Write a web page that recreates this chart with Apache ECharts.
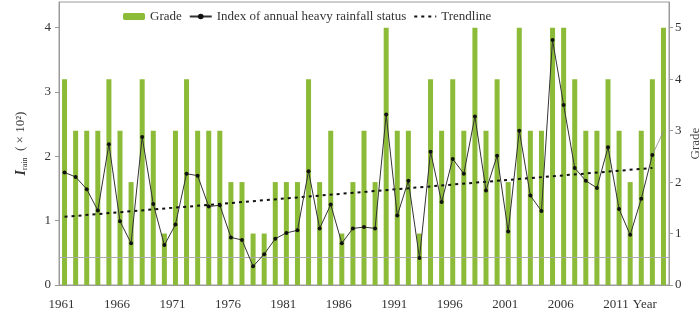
<!DOCTYPE html>
<html>
<head>
<meta charset="utf-8">
<script src="https://cdn.jsdelivr.net/npm/echarts@6/dist/echarts.min.js"></script>
<style>
    html, body { margin: 0; padding: 0; background: #fff; }
    #main { width: 700px; height: 310px; }
</style>
</head>
<body>
<div id="main"></div>
<script>
// years on the category axis
let years = [];
for (let y = 1961; y <= 2015; y++) years.push(String(y));

// grade (right axis), one per year 1961-2015
let grade = [
    4, 3, 3, 3, 4, 3, 2, 4, 3, 1,
    3, 4, 3, 3, 3, 2, 2, 1, 1, 2,
    2, 2, 4, 2, 3, 1, 2, 3, 2, 5,
    3, 3, 1, 4, 3, 4, 3, 5, 3, 4,
    2, 5, 3, 3, 5, 5, 4, 3, 3, 4,
    3, 2, 3, 4, 5
];

// index of annual heavy rainfall status (left axis), 1961-2014
let rainIndex = [
    1.75, 1.68, 1.49, 1.16, 2.19, 0.99, 0.65, 2.30, 1.26, 0.62,
    0.94, 1.73, 1.70, 1.22, 1.24, 0.74, 0.70, 0.29, 0.48, 0.72,
    0.81, 0.85, 1.77, 0.88, 1.25, 0.65, 0.88, 0.90, 0.88, 2.65,
    1.08, 1.62, 0.42, 2.07, 1.29, 1.96, 1.73, 2.62, 1.47, 2.01,
    0.83, 2.40, 1.39, 1.15, 3.81, 2.80, 1.82, 1.62, 1.51, 2.14,
    1.18, 0.78, 1.34, 2.02, null
];

// thin tail segment 2014-2015
let tail = years.map(() => null);
tail[53] = 2.02;
tail[54] = 2.39;

// trendline end points
let trend = years.map(() => null);
trend[0] = 1.06;
trend[53] = 1.82;

// reference line on left axis
let baseLine = 0.43;

let serif = "Liberation Serif";
let axisGray = "#9a9a9a";

let myChart = echarts.init(document.getElementById("main"));

let option = {
    animation: false,
    textStyle: { fontFamily: serif, color: "#333" },
    grid: {
        left: 59,
        right: 31,
        top: 2,
        bottom: 25,
        outerBoundsMode: "none",
        show: true,
        borderColor: axisGray,
        borderWidth: 1
    },
    legend: {
        left: 118,
        top: 5,
        itemWidth: 22,
        itemHeight: 7,
        itemGap: 7,
        textStyle: { fontFamily: serif, fontSize: 13, color: "#333" },
        data: ["Grade", "Index of annual heavy rainfall status", "Trendline"]
    },
    xAxis: {
        type: "category",
        data: years,
        boundaryGap: true,
        axisLine: { lineStyle: { color: axisGray } },
        axisTick: {
            inside: true,
            length: 7,
            interval: 0,
            lineStyle: { color: "#bbb" }
        },
        axisLabel: {
            interval: 0,
            margin: 13,
            fontSize: 13,
            color: "#333",
            fontFamily: serif,
            formatter: function (v, i) {
                if (i === 52) return "{b|Year}";
                return i % 5 === 0 && i <= 50 ? "{a|" + v + "}" : "";
            },
            rich: {
                a: { fontFamily: serif, fontSize: 13, color: "#333", padding: [0, 6, 0, 0] },
                b: { fontFamily: serif, fontSize: 13, color: "#333", padding: [0, 0, 0, 7] }
            }
        }
    },
    yAxis: [
        {
            type: "value",
            min: 0,
            max: 4.4,
            interval: 1,
            splitLine: { show: false },
            axisLine: { show: true, lineStyle: { color: axisGray } },
            axisTick: { show: true, length: 4, lineStyle: { color: axisGray } },
            axisLabel: {
                fontSize: 13,
                color: "#333",
                fontFamily: serif,
                margin: 8,
                showMaxLabel: false,
                formatter: v => (Number.isInteger(v) ? String(v) : "")
            },
            name: "{i|I}{s|rain}{n|  ( × 10²)}",
            nameLocation: "middle",
            nameRotate: 90,
            nameGap: 30,
            nameMoveOverlap: false,
            nameTextStyle: {
                rich: {
                    i: { fontFamily: serif, fontStyle: "italic", fontWeight: "bold", fontSize: 14, color: "#333" },
                    s: { fontFamily: serif, fontSize: 8, color: "#333", padding: [8, 0, 0, 0] },
                    n: { fontFamily: serif, fontSize: 13, color: "#333" }
                }
            }
        },
        {
            type: "value",
            min: 0,
            max: 5.5,
            interval: 1,
            position: "right",
            splitLine: { show: false },
            axisLine: { show: true, lineStyle: { color: axisGray } },
            axisTick: { show: true, length: 4, lineStyle: { color: axisGray } },
            axisLabel: {
                fontSize: 13,
                color: "#333",
                fontFamily: serif,
                margin: 6,
                showMaxLabel: false,
                formatter: v => (Number.isInteger(v) ? String(v) : "")
            },
            name: "Grade",
            nameLocation: "middle",
            nameRotate: 90,
            nameGap: 20,
            nameMoveOverlap: false,
            nameTextStyle: { fontFamily: serif, fontSize: 13, color: "#444" }
        }
    ],
    series: [
        {
            name: "Grade",
            type: "bar",
            yAxisIndex: 1,
            data: grade,
            barWidth: 5,
            itemStyle: { color: "#8cbb38" }
        },
        {
            name: "Index of annual heavy rainfall status",
            type: "line",
            yAxisIndex: 0,
            data: rainIndex,
            symbol: "circle",
            symbolSize: 4,
            lineStyle: { color: "#333", width: 1 },
            itemStyle: { color: "#111" },
            z: 5,
            markLine: {
                silent: true,
                symbol: "none",
                label: { show: false },
                lineStyle: { color: "#aaa", type: "solid", width: 1 },
                data: [{ yAxis: baseLine }]
            }
        },
        {
            name: "tail",
            type: "line",
            yAxisIndex: 0,
            data: tail,
            symbol: "none",
            lineStyle: { color: "#888", width: 0.8 },
            z: 4
        },
        {
            name: "Trendline",
            type: "line",
            yAxisIndex: 0,
            data: trend,
            connectNulls: true,
            symbol: "none",
            lineStyle: { color: "#111", width: 2, type: [3, 4] },
            itemStyle: { color: "#111", opacity: 0 },
            z: 4
        }
    ]
};

myChart.setOption(option);
</script>
</body>
</html>
